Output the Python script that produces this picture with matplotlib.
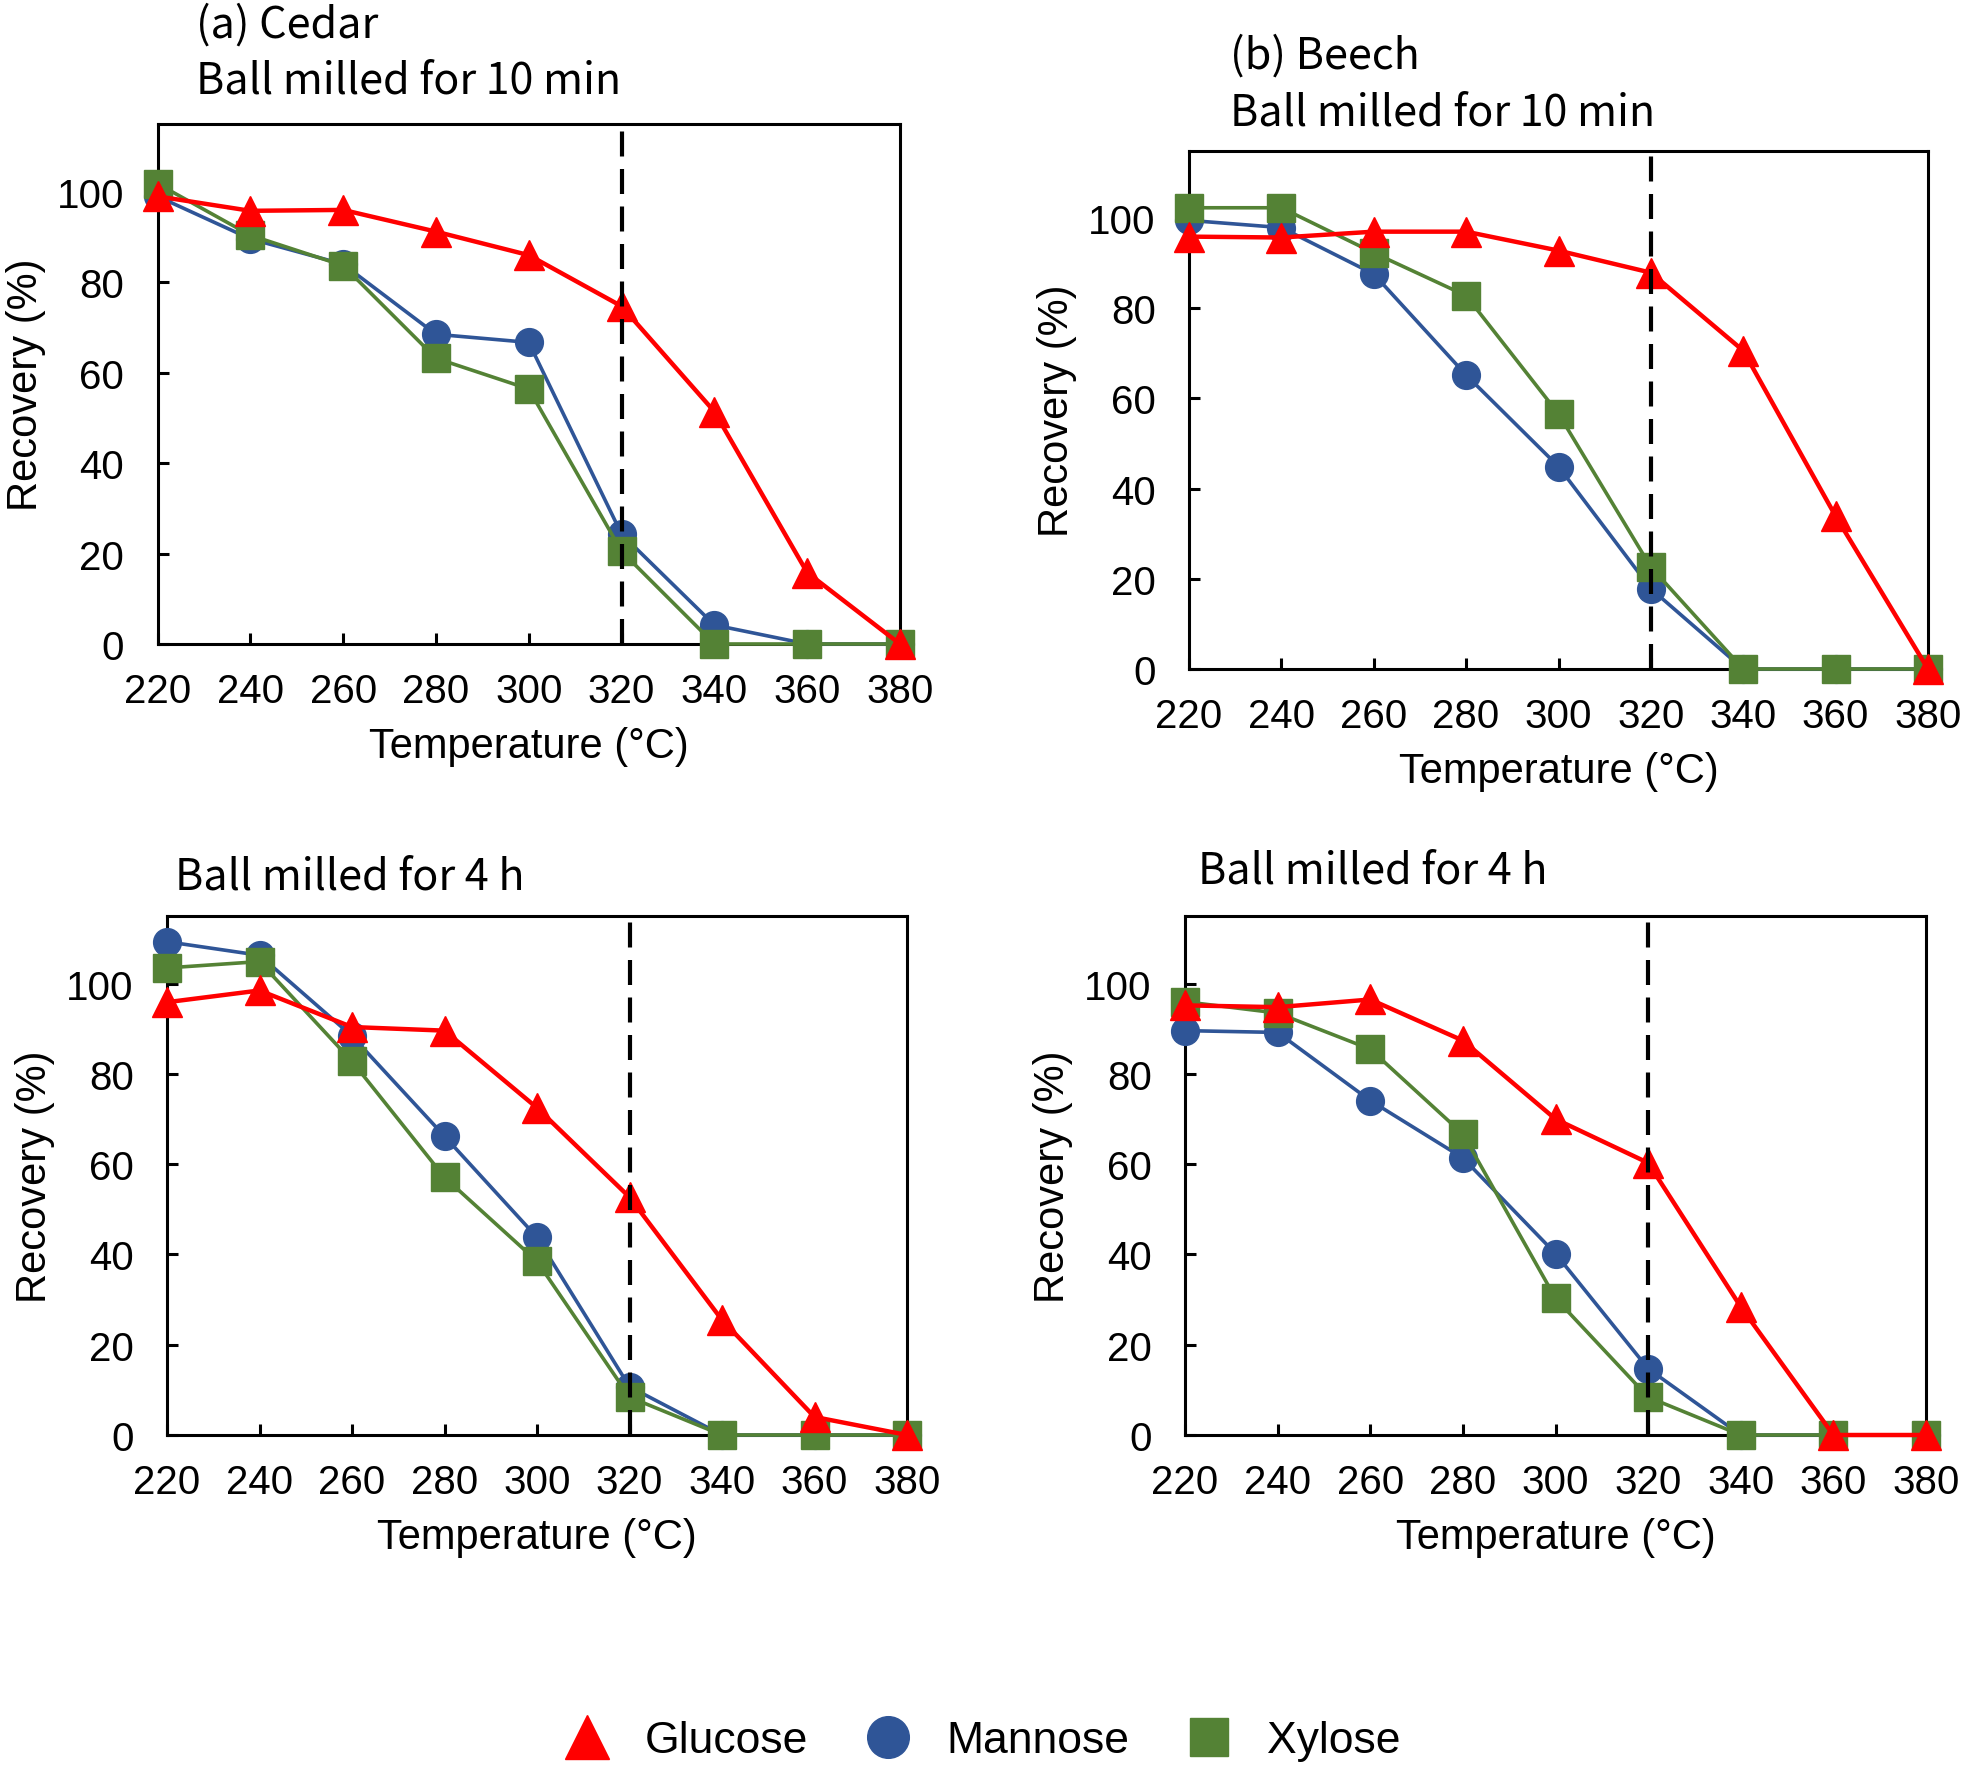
import matplotlib.pyplot as plt
from matplotlib.lines import Line2D

plt.rcParams['font.family'] = ['Liberation Sans', 'DejaVu Sans']

W, H = 1961, 1774

Temps = [220, 240, 260, 280, 300, 320, 340, 360, 380]

# (a) Cedar, ball milled for 10 min
CedarGlucose10 = [99, 95.8, 96, 91.2, 86, 74.7, 51.4, 15.8, 0]
CedarMannose10 = [99, 89.6, 84, 68.5, 66.7, 24.3, 4.2, 0, 0]
CedarXylose10 = [101.8, 90.4, 83.7, 63.2, 56.4, 20.5, 0, 0, 0]

# (b) Beech, ball milled for 10 min
BeechGlucose10 = [95.9, 95.7, 97, 97, 92.8, 87.9, 70.6, 33.9, 0]
BeechMannose10 = [99.5, 97.9, 87.6, 65.2, 44.9, 17.8, 0, 0, 0]
BeechXylose10 = [102.3, 102.3, 92.3, 82.8, 56.6, 22.6, 0, 0, 0]

# Cedar, ball milled for 4 h
CedarGlucose4 = [95.9, 98.5, 90.4, 89.6, 72.5, 52.7, 25.5, 4, 0]
CedarMannose4 = [109.3, 106.3, 88.4, 66.2, 43.8, 10.7, 0, 0, 0]
CedarXylose4 = [103.5, 104.9, 82.8, 57.1, 38.5, 8.4, 0, 0, 0]

# Beech, ball milled for 4 h
BeechGlucose4 = [95.2, 94.8, 96.5, 87.4, 70, 60.3, 28.4, 0, 0]
BeechMannose4 = [89.6, 89.2, 74.1, 61.4, 40.2, 14.7, 0, 0, 0]
BeechXylose4 = [96, 93.5, 85.5, 66.7, 30.3, 8.4, 0, 0, 0]

Red = '#FF0000'
Blue = '#2F5597'
Green = '#548235'


def AddAxes(Fig, l, r, t, b):
    return Fig.add_axes([l / W, 1 - b / H, (r - l) / W, (b - t) / H])


def Panel(ax, Glucose, Mannose, Xylose):
    ax.plot(Temps, Mannose, color=Blue, lw=2.6, marker='o', ms=20, clip_on=False, zorder=3)
    ax.plot(Temps, Xylose, color=Green, lw=2.6, marker='s', ms=20, clip_on=False, zorder=4)
    ax.plot(Temps, Glucose, color=Red, lw=3.2, marker='^', ms=21, clip_on=False, zorder=5)
    ax.axvline(320, color='black', lw=3, ls=(0, (6, 3)), zorder=6)
    ax.set_xlim(220, 380)
    ax.set_ylim(0, 115)
    ax.set_xticks(Temps)
    ax.set_yticks([0, 20, 40, 60, 80, 100])
    ax.tick_params(direction='in', length=8, width=2.2, labelsize=29)
    ax.tick_params(axis='x', pad=20)
    ax.tick_params(axis='y', pad=24)
    for s in ax.spines.values():
        s.set_linewidth(2.2)
    ax.set_xlabel('Temperature (°C)', fontsize=30, labelpad=12)
    ax.set_ylabel('Recovery (%)', fontsize=30, labelpad=8)


Figure = plt.figure(figsize=(W / 100, H / 100), dpi=100)

AxA = AddAxes(Figure, 157.5, 900, 125, 645)
AxB = AddAxes(Figure, 1189, 1928, 151.5, 670)
AxC = AddAxes(Figure, 167, 907, 917, 1436)
AxD = AddAxes(Figure, 1185, 1926, 917, 1436)

Panel(AxA, CedarGlucose10, CedarMannose10, CedarXylose10)
Panel(AxB, BeechGlucose10, BeechMannose10, BeechXylose10)
Panel(AxC, CedarGlucose4, CedarMannose4, CedarXylose4)
Panel(AxD, BeechGlucose4, BeechMannose4, BeechXylose4)

TitleFont = dict(fontsize=31, family=['Noto Sans CJK JP', 'DejaVu Sans'])
Figure.text(196 / W, 1 - 38 / H, '(a) Cedar', va='baseline', **TitleFont)
Figure.text(196 / W, 1 - 94 / H, 'Ball milled for 10 min', va='baseline', **TitleFont)
Figure.text(1230 / W, 1 - 69 / H, '(b) Beech', va='baseline', **TitleFont)
Figure.text(1230 / W, 1 - 125 / H, 'Ball milled for 10 min', va='baseline', **TitleFont)
Figure.text(175 / W, 1 - 890 / H, 'Ball milled for 4 h', va='baseline', **TitleFont)
Figure.text(1198 / W, 1 - 884 / H, 'Ball milled for 4 h', va='baseline', **TitleFont)

Handles = [
    Line2D([], [], ls='none', marker='^', ms=32, color=Red),
    Line2D([], [], ls='none', marker='o', ms=30, color=Blue),
    Line2D([], [], ls='none', marker='s', ms=28, color=Green),
]
Figure.legend(Handles, ['Glucose', 'Mannose', 'Xylose'], loc='center',
              bbox_to_anchor=(0.5, 32 / H), ncol=3, frameon=False,
              fontsize=32, handletextpad=0.7, columnspacing=1.2, handlelength=1.2)

Figure.savefig('out.png', dpi=100)
